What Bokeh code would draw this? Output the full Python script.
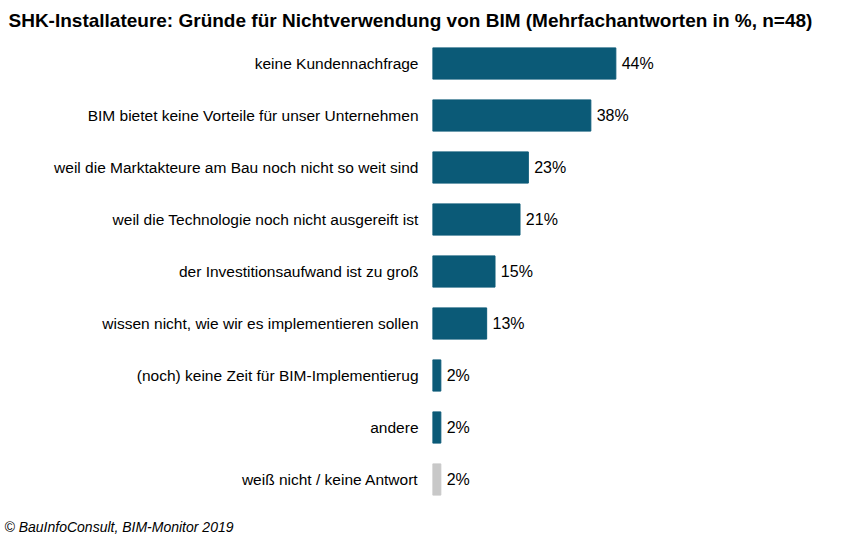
from bokeh.plotting import figure
from bokeh.models import Range1d, FixedTicker, Title
from bokeh.embed import file_html
from bokeh.resources import INLINE

categories = ["keine Kundennachfrage","BIM bietet keine Vorteile für unser Unternehmen",
 "weil die Marktakteure am Bau noch nicht so weit sind","weil die Technologie noch nicht ausgereift ist",
 "der Investitionsaufwand ist zu groß","wissen nicht, wie wir es implementieren sollen",
 "(noch) keine Zeit für BIM-Implementierug","andere","weiß nicht / keine Antwort"]
values = [44,38,23,21,15,13,2,2,2]
colors = ["#0b5a77"]*8+["#c8c8c8"]

H=549
n=len(categories)
ys=[n-1-i for i in range(n)]
p=figure(width=842,height=H,output_backend="svg",toolbar_location=None,
         x_range=Range1d(0,60),y_range=Range1d(-0.5,n-0.5),
         min_border_left=432,min_border_right=160,min_border_top=0,min_border_bottom=44)
p.outline_line_color=None
p.grid.visible=False
p.xaxis.visible=False
p.hbar(y=ys,right=values,height=0.6,color=colors)
p.text(x=[v+1.4 for v in values],y=ys,text=[f"{v}%" for v in values],text_baseline="middle",
       text_font_size="16px",text_font={"value":"Liberation Sans"},text_color="#000")
ya=p.yaxis[0]
ya.ticker=FixedTicker(ticks=ys)
ya.major_label_overrides={y:c for y,c in zip(ys,categories)}
ya.axis_line_color=None; ya.major_tick_line_color=None; ya.minor_tick_line_color=None
ya.major_label_text_font="Liberation Sans"; ya.major_label_text_font_size="15.5px"
ya.major_label_text_color="#000"; ya.major_label_standoff=8
p.title=Title(text="SHK-Installateure:  Gründe für Nichtverwendung von BIM (Mehrfachantworten in %, n=48)",
  text_font="Liberation Sans",text_font_style="bold",text_font_size="19px",text_color="#000",
  align="left",offset=-424,standoff=14)
p.add_layout(Title(text="© BauInfoConsult, BIM-Monitor 2019",text_font="Liberation Sans",text_font_style="italic",
  text_font_size="14px",text_color="#000",align="left",offset=-428,standoff=22),"below")
open("out.html","w").write(file_html(p,INLINE))
